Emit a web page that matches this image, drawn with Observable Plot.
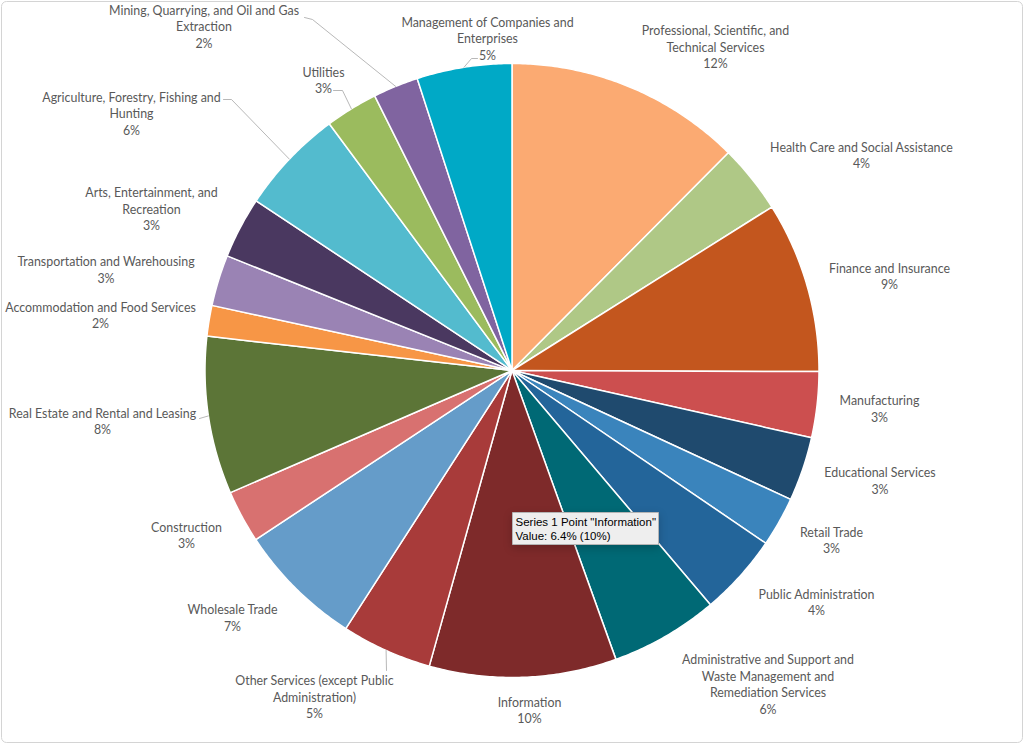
<!DOCTYPE html>
<html><head><meta charset="utf-8">
<script src="https://cdn.jsdelivr.net/npm/d3@7"></script>
<script src="https://cdn.jsdelivr.net/npm/@observablehq/plot@0.6"></script>
<style>
html,body{margin:0;padding:0;background:#fff;}
#chart svg{display:block;}
</style></head><body><div id="chart"></div>
<script>
// ---- data ----
const categories = [
  "Professional, Scientific, and Technical Services",
  "Health Care and Social Assistance",
  "Finance and Insurance",
  "Manufacturing",
  "Educational Services",
  "Retail Trade",
  "Public Administration",
  "Administrative and Support and Waste Management and Remediation Services",
  "Information",
  "Other Services (except Public Administration)",
  "Wholesale Trade",
  "Construction",
  "Real Estate and Rental and Leasing",
  "Accommodation and Food Services",
  "Transportation and Warehousing",
  "Arts, Entertainment, and Recreation",
  "Agriculture, Forestry, Fishing and Hunting",
  "Utilities",
  "Mining, Quarrying, and Oil and Gas Extraction",
  "Management of Companies and Enterprises"
];
const values = [8.1, 2.35, 5.85, 2.25, 2.2, 1.7, 2.8, 3.7, 6.4, 3.1, 4.3, 1.8, 5.4, 1.05, 1.75, 2.1, 3.6, 1.8, 1.55, 3.25];
const labelText = [
  "Professional, Scientific, and\nTechnical Services",
  "Health Care and Social Assistance",
  "Finance and Insurance",
  "Manufacturing",
  "Educational Services",
  "Retail Trade",
  "Public Administration",
  "Administrative and Support and\nWaste Management and\nRemediation Services",
  "Information",
  "Other Services (except Public\nAdministration)",
  "Wholesale Trade",
  "Construction",
  "Real Estate and Rental and Leasing",
  "Accommodation and Food Services",
  "Transportation and Warehousing",
  "Arts, Entertainment, and\nRecreation",
  "Agriculture, Forestry, Fishing and\nHunting",
  "Utilities",
  "Mining, Quarrying, and Oil and Gas\nExtraction",
  "Management of Companies and\nEnterprises"
];
const tipText = 'Series 1 Point "Information"\nValue: 6.4% (10%)';

// ---- styles / layout ----
const colors = ["#FBAA72","#AFC886","#C3561E","#CC4F4F","#1F4A6E","#3A84BC","#23659A","#006975","#7E2A2A","#A83B3A",
                "#659CC9","#D87170","#5C7537","#F79646","#9A83B4","#4A3860","#53BBCE","#9BBB5E","#8064A0","#00A9C6"];
const W = 1024, H = 744, cx = 511.5, cy = 370, R = 307;
const ux = px => (px - cx) / R, uy = py => (cy - py) / R;
// label block centres (pixels), in category order
const labelPos = [[715,46],[861,154],[889,275],[879,407.5],[879.5,479.5],[831,539],[816,601],[767.5,683],[529,709],[314,696],
                  [232,616.5],[186,534],[102,420],[100,314],[105.5,268.5],[151,208],[131,112.5],[323,79],[203.5,25.5],[487,37.5]];
// leader line start/elbow points (pixels); they end on the slice edge at mid-angle
const leaderPts = {
  "Mining, Quarrying, and Oil and Gas Extraction": [[304,17],[312,19]],
  "Agriculture, Forestry, Fishing and Hunting": [[223,99],[231,99]],
  "Utilities": [[333,90],[342,90]],
  "Management of Companies and Enterprises": [[477,58],[471,58]],
  "Real Estate and Rental and Leasing": [[199,418]],
  "Other Services (except Public Administration)": [[386,670]]
};

const total = d3.sum(values);
const arcs = d3.pie().sort(null).value(d => d)(values);

const slicePts = [];
arcs.forEach((p, i) => {
  const n = Math.max(2, Math.ceil((p.endAngle - p.startAngle) / (Math.PI / 360)));
  slicePts.push({name: categories[i], x: 0, y: 0});
  for (let k = 0; k <= n; k++) {
    const a = p.startAngle + (p.endAngle - p.startAngle) * k / n;
    slicePts.push({name: categories[i], x: Math.sin(a), y: Math.cos(a)});
  }
});

const labels = categories.map((c, i) => ({
  name: c,
  text: labelText[i] + "\n" + Math.round(values[i] / total * 100) + "%",
  x: ux(labelPos[i][0]), y: uy(labelPos[i][1])
}));

const leaderData = [];
categories.forEach((c, i) => {
  if (!leaderPts[c]) return;
  const mid = (arcs[i].startAngle + arcs[i].endAngle) / 2;
  leaderPts[c].forEach(([px, py]) => leaderData.push({name: c, x: ux(px), y: uy(py)}));
  leaderData.push({name: c, x: Math.sin(mid), y: Math.cos(mid)});
});

const chart = Plot.plot({
  width: W, height: H,
  margin: 0,
  x: {domain: [ux(0), ux(W)], axis: null},
  y: {domain: [uy(H), uy(0)], axis: null},
  color: {domain: categories, range: colors},
  style: {fontFamily: "Lato, 'Noto Sans', sans-serif", background: "#fff"},
  marks: [
    Plot.frame({stroke: "#d4d4d4", rx: 5, insetLeft: 1, insetTop: 1, insetRight: 2, insetBottom: 2}),
    Plot.line(slicePts, {x: "x", y: "y", z: "name", fill: "name", stroke: "white", strokeWidth: 1.5, curve: "linear-closed"}),
    Plot.line(leaderData, {x: "x", y: "y", z: "name", stroke: "#a6a6a6", strokeWidth: 0.8}),
    Plot.text(labels, {x: "x", y: "y", text: "text", fill: "#595959", fontSize: 12.4, lineHeight: 1.33,
                       textAnchor: "middle", lineAnchor: "middle", fontFamily: "Lato, 'Noto Sans', sans-serif"}),
    Plot.tip([{x: ux(512), y: uy(512), t: tipText}], {x: "x", y: "y", title: "t", anchor: "top-left", pointerSize: 0,
             fill: "#eeeeee", stroke: "#b4b4b4", fontSize: 11.5, lineHeight: 1.2, textPadding: 3,
             fontFamily: "'Liberation Sans', Arial, sans-serif"})
  ]
});
document.getElementById("chart").appendChild(chart);
</script>
</body></html>
